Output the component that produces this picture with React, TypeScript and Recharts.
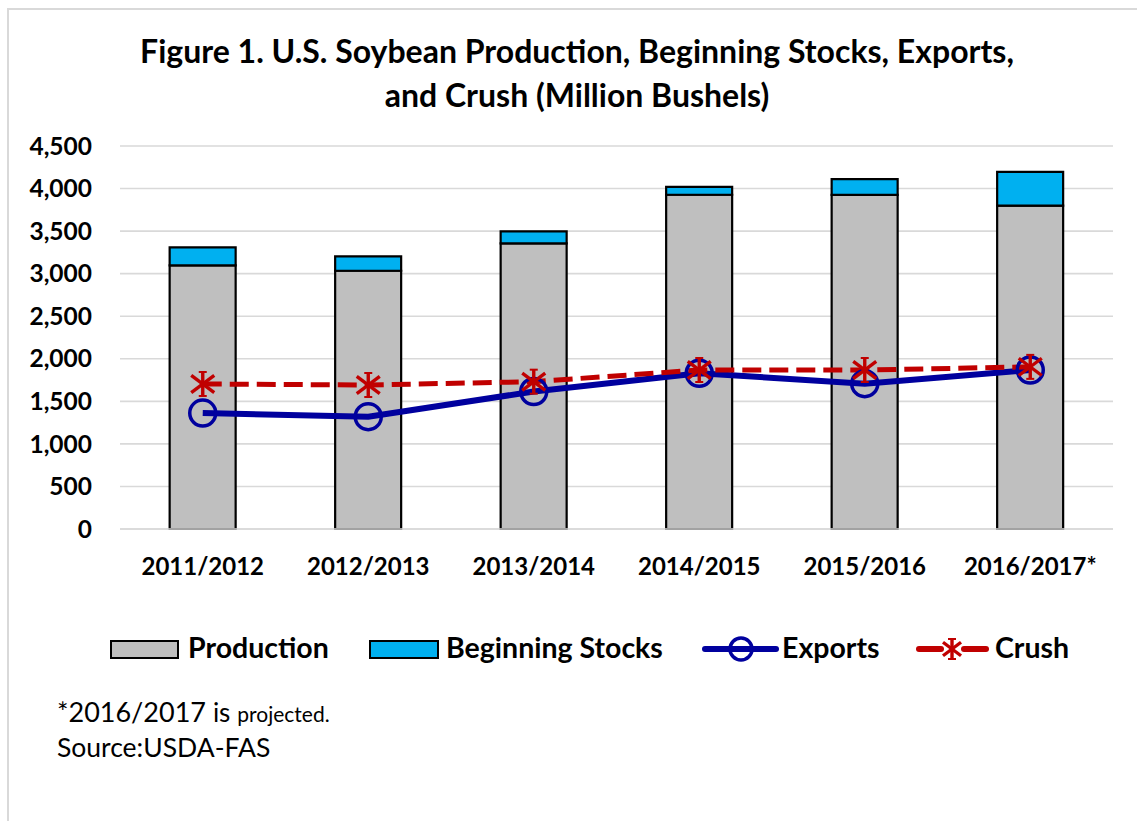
import React from 'react';
import { ComposedChart, Bar, Line, XAxis, YAxis, CartesianGrid, Legend } from 'recharts';

const categories = ['2011/2012', '2012/2013', '2013/2014', '2014/2015', '2015/2016', '2016/2017*'];
const production = [3097, 3034, 3357, 3927, 3926, 3800];
const beginningStocks = [213, 170, 139, 92, 185, 397];
const exportsVals = [1362, 1320, 1615, 1830, 1708, 1868];
const crush = [1704, 1692, 1731, 1868, 1868, 1905];
const yTicks = [0, 500, 1000, 1500, 2000, 2500, 3000, 3500, 4000, 4500];

const data = categories.map((c, i) => ({
  name: c,
  production: production[i],
  stocks: beginningStocks[i],
  exports: exportsVals[i],
  crush: crush[i],
}));

const FONT = 'Lato, "Open Sans", "DejaVu Sans", sans-serif';
const BLUE = '#00009e';
const RED = '#c00000';

const StarDot = (props: any) => {
  const { cx, cy, key, small } = props;
  if (cx == null || cy == null) return <g key={key} />;
  const s = small ? 10 : 12;
  const d = small ? 9 : 11.5;
  return (
    <g key={key} stroke={RED} strokeWidth={3.4} strokeLinecap="butt">
      <line x1={cx} y1={cy - s} x2={cx} y2={cy + s} />
      <line x1={cx - d} y1={cy - d * 0.75} x2={cx + d} y2={cy + d * 0.75} />
      <line x1={cx - d} y1={cy + d * 0.75} x2={cx + d} y2={cy - d * 0.75} />
      <line x1={cx - 4} y1={cy - s} x2={cx + 4} y2={cy - s} strokeWidth={2} />
      <line x1={cx - 4} y1={cy + s} x2={cx + 4} y2={cy + s} strokeWidth={2} />
    </g>
  );
};

const LegendContent = () => {
  const ty = 658;
  const base = 620;
  const y = (v: number) => v - base;
  const tStyle: React.CSSProperties = { fontFamily: FONT, fontWeight: 700, fontSize: 28.5 };
  return (
    <svg width={1137} height={60} style={{ display: 'block' }}>
      <rect x={111} y={y(641)} width={67} height={17} fill="#bfbfbf" stroke="#000" strokeWidth={2} />
      <text x={188} y={y(ty)} style={tStyle} fill="#000">Production</text>
      <rect x={370} y={y(641)} width={68} height={17} fill="#00b0f0" stroke="#000" strokeWidth={2} />
      <text x={446} y={y(ty)} style={tStyle} fill="#000">Beginning Stocks</text>
      <line x1={705} y1={y(649)} x2={776} y2={y(649)} stroke={BLUE} strokeWidth={6} strokeLinecap="round" />
      <circle cx={741} cy={y(649)} r={11} fill="none" stroke={BLUE} strokeWidth={3.5} />
      <text x={782} y={y(ty)} style={tStyle} fill="#000">Exports</text>
      <line x1={919} y1={y(649)} x2={941} y2={y(649)} stroke={RED} strokeWidth={6} strokeLinecap="round" />
      <line x1={964} y1={y(649)} x2={986} y2={y(649)} stroke={RED} strokeWidth={6} strokeLinecap="round" />
      <StarDot cx={952} cy={y(649)} key="s" small />
      <text x={995} y={y(ty)} style={tStyle} fill="#000">Crush</text>
    </svg>
  );
};

export default function App() {
  return (
    <div style={{ position: 'absolute', left: 0, top: 0, width: 1137, height: 821, background: '#fff', overflow: 'hidden' }}>
      <div style={{ position: 'absolute', left: 7, top: 8, width: 1200, height: 900, borderLeft: '2px solid #d9d9d9', borderTop: '2px solid #d9d9d9' }} />
      <svg width={1137} height={130} style={{ position: 'absolute', left: 0, top: 0 }}>
        <text x={577} y={63} textAnchor="middle" style={{ fontFamily: FONT, fontWeight: 700, fontSize: 32 }} fill="#000">
          Figure 1. U.S. Soybean Production, Beginning Stocks, Exports,
        </text>
        <text x={577} y={107} textAnchor="middle" style={{ fontFamily: FONT, fontWeight: 700, fontSize: 32 }} fill="#000">
          and Crush (Million Bushels)
        </text>
      </svg>
      <div style={{ position: 'absolute', left: 0, top: 0 }}>
        <ComposedChart
          width={1137}
          height={821}
          data={data}
          margin={{ top: 146, right: 24, left: 20, bottom: 172 }}
          barCategoryGap="30%"
        >
          <CartesianGrid horizontal vertical={false} stroke="#d9d9d9" strokeWidth={1.6} />
          <XAxis
            dataKey="name"
            axisLine={{ stroke: '#d9d9d9', strokeWidth: 1.6 }}
            tickLine={false}
            tickSize={0}
            tickMargin={29}
            height={60}
            interval={0}
            tick={{ fill: '#000', fontFamily: FONT, fontWeight: 700, fontSize: 24 }}
          />
          <YAxis
            width={100}
            domain={[0, 4500]}
            ticks={yTicks}
            axisLine={false}
            tickLine={false}
            tickSize={0}
            tickMargin={28}
            tickFormatter={(v: number) => v.toLocaleString('en-US')}
            tick={{ fill: '#000', fontFamily: FONT, fontWeight: 700, fontSize: 24.5 }}
          />
          <Bar dataKey="production" stackId="a" fill="#bfbfbf" stroke="#000" strokeWidth={2.2} isAnimationActive={false} />
          <Bar dataKey="stocks" stackId="a" fill="#00b0f0" stroke="#000" strokeWidth={2.2} isAnimationActive={false} />
          <Line
            dataKey="exports"
            type="linear"
            stroke={BLUE}
            strokeWidth={6}
            dot={{ r: 13, fill: 'none', stroke: BLUE, strokeWidth: 3.5 }}
            activeDot={false}
            isAnimationActive={false}
          />
          <Line
            dataKey="crush"
            type="linear"
            stroke={RED}
            strokeWidth={5}
            strokeDasharray="19 8"
            dot={(p: any) => <StarDot {...p} key={p.key ?? `${p.cx}-${p.cy}`} />}
            activeDot={false}
            isAnimationActive={false}
          />
          <Legend
            content={() => <LegendContent />}
            wrapperStyle={{ position: 'absolute', left: 0, top: 620, width: 1137, height: 60 }}
          />
        </ComposedChart>
      </div>
      <svg width={1137} height={120} style={{ position: 'absolute', left: 0, top: 680 }}>
        <text x={57} y={42} style={{ fontFamily: FONT, fontSize: 27 }} fill="#000">
          *2016/2017 <tspan style={{ fontSize: 26 }}>is</tspan> <tspan style={{ fontSize: 21 }}>projected.</tspan>
        </text>
        <text x={57} y={77} style={{ fontFamily: FONT, fontSize: 26.5 }} fill="#000">
          Source:USDA-FAS
        </text>
      </svg>
    </div>
  );
}
